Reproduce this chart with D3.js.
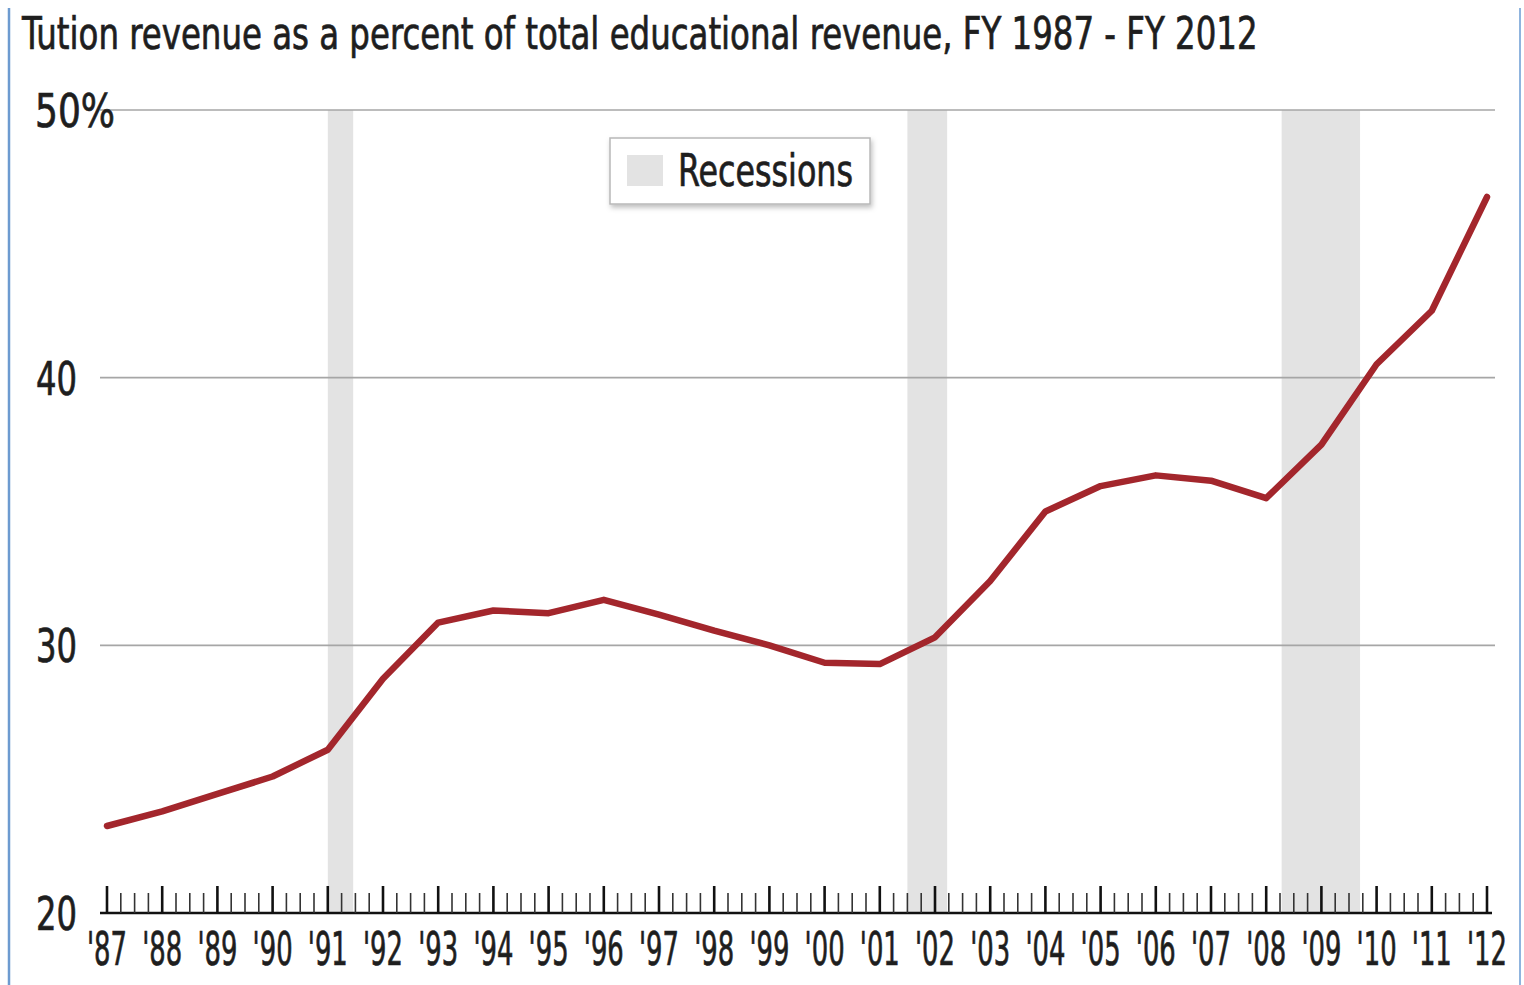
<!DOCTYPE html>
<html>
<head>
<meta charset="utf-8">
<script src="https://cdn.jsdelivr.net/npm/d3@7"></script>
<style>
  html, body { margin: 0; padding: 0; background: #fff; }
  svg { display: block; }
  text { font-family: "Liberation Sans Narrow", "DejaVu Sans Condensed", "Roboto Condensed", sans-serif;
         fill: #1e1e1e; stroke: #1e1e1e; stroke-width: 0.7px; }
</style>
</head>
<body>
<script>
// Fiscal years and tuition share of total educational revenue (%)
const years = [1987, 1988, 1989, 1990, 1991, 1992, 1993, 1994, 1995, 1996, 1997, 1998, 1999,
               2000, 2001, 2002, 2003, 2004, 2005, 2006, 2007, 2008, 2009, 2010, 2011, 2012];
const tuitionShare = [23.25, 23.8, 24.45, 25.1, 26.1, 28.75, 30.85, 31.3, 31.2, 31.7, 31.15, 30.55, 30.0,
                      29.35, 29.3, 30.3, 32.4, 35.0, 35.95, 36.35, 36.15, 35.5, 37.5, 40.5, 42.5, 46.75];

// Recession periods (fractional fiscal years)
const recessionStart = [1991.0, 2001.5, 2008.28];
const recessionEnd   = [1991.46, 2002.22, 2009.7];

// Axis ticks and labels
const yTicks = [20, 30, 40, 50];
const yTickLabels = ["20", "30", "40", "50%"];
const xTickLabels = years.map(y => "'" + String(y).slice(2));

const titleText = "Tution revenue as a percent of total educational revenue, FY 1987 - FY 2012";
const legendLabel = "Recessions";

const W = 1524, H = 985;
const svg = d3.select("body").append("svg").attr("width", W).attr("height", H);

const x = d3.scaleLinear().domain([1987, 2012]).range([107, 1487]);
const y = d3.scaleLinear().domain([20, 50]).range([913, 110]);

// squeeze a text horizontally so its rendered width equals `target`
function fitWidth(sel, target, tx, ty) {
  const w = sel.node().getComputedTextLength();
  const k = target / w;
  sel.attr("transform", `translate(${tx}, ${ty}) scale(${k}, 1)`);
  return k;
}

// frame edges
svg.append("line").attr("x1", 9).attr("x2", 9).attr("y1", 8).attr("y2", H)
  .attr("stroke", "#6d9bd0").attr("stroke-width", 2.5);
svg.append("line").attr("x1", 1520).attr("x2", 1520).attr("y1", 8).attr("y2", H)
  .attr("stroke", "#8fb4de").attr("stroke-width", 2);

// title
const title = svg.append("text").attr("font-size", 44).text(titleText);
fitWidth(title, 1236, 22, 49);

// recession bands
svg.append("g").selectAll("rect")
  .data(recessionStart.map((s, i) => [s, recessionEnd[i]]))
  .join("rect")
  .attr("x", d => x(d[0]))
  .attr("width", d => x(d[1]) - x(d[0]))
  .attr("y", y(50))
  .attr("height", y(20) - y(50))
  .attr("fill", "#e3e3e3");

// horizontal gridlines
svg.append("g").selectAll("line")
  .data(yTicks.filter(t => t > 20))
  .join("line")
  .attr("x1", 100).attr("x2", 1495)
  .attr("y1", d => y(d)).attr("y2", d => y(d))
  .attr("stroke", "#a6a6a6").attr("stroke-width", 1.6);

// y labels (condensed: two digits span about 41px, "50%" about 80px)
const yLab = svg.append("g").selectAll("text")
  .data(yTicks)
  .join("text")
  .attr("font-size", 46)
  .text((d, i) => yTickLabels[i]);
const kY = 41 / yLab.filter(d => d === 40).node().getComputedTextLength();
yLab.attr("transform", d => `translate(36, ${y(d) + 17}) scale(${kY}, 1)`);
fitWidth(yLab.filter(d => d === 50), 80, 35, y(50) + 17);

// x axis: baseline, yearly major ticks and quarterly minor ticks
const xAxisG = svg.append("g").attr("transform", `translate(0, ${y(20)})`);
const quarters = d3.range(1987, 2012.01, 0.25).filter(q => Math.abs(q - Math.round(q)) > 0.01);
xAxisG.append("line").attr("x1", 100).attr("x2", 1492).attr("y1", 0).attr("y2", 0)
  .attr("stroke", "#111").attr("stroke-width", 2.5);
xAxisG.selectAll(".major").data(years).join("line").attr("class", "major")
  .attr("x1", d => x(d)).attr("x2", d => x(d))
  .attr("y1", 0).attr("y2", -27)
  .attr("stroke", "#111").attr("stroke-width", 2.6);
xAxisG.selectAll(".minor").data(quarters).join("line").attr("class", "minor")
  .attr("x1", d => x(d)).attr("x2", d => x(d))
  .attr("y1", 0).attr("y2", -20)
  .attr("stroke", "#333").attr("stroke-width", 1.6);

// x labels (condensed so "'87" spans about 40px)
const xLab = svg.append("g").selectAll("text")
  .data(years)
  .join("text")
  .attr("text-anchor", "middle")
  .attr("font-size", 46)
  .text((d, i) => xTickLabels[i]);
const kX = 40 / xLab.filter(d => d === 1987).node().getComputedTextLength();
xLab.attr("transform", d => `translate(${x(d)}, 965) scale(${kX}, 1)`);

// tuition share line
const line = d3.line()
  .x((d, i) => x(years[i]))
  .y(d => y(d))
  .curve(d3.curveLinear);
svg.append("path")
  .datum(tuitionShare)
  .attr("d", line)
  .attr("fill", "none")
  .attr("stroke", "#a3262c")
  .attr("stroke-width", 6.5)
  .attr("stroke-linejoin", "round")
  .attr("stroke-linecap", "round");

// legend
const defs = svg.append("defs");
const f = defs.append("filter").attr("id", "shadow").attr("x", "-10%").attr("y", "-10%")
  .attr("width", "130%").attr("height", "140%");
f.append("feDropShadow").attr("dx", 1.5).attr("dy", 3).attr("stdDeviation", 2.5)
  .attr("flood-color", "#000").attr("flood-opacity", 0.25);
const lg = svg.append("g");
lg.append("rect").attr("x", 610).attr("y", 138).attr("width", 260).attr("height", 66)
  .attr("fill", "#fff").attr("stroke", "#b8b8b8").attr("stroke-width", 1.5)
  .attr("filter", "url(#shadow)");
lg.append("rect").attr("x", 627).attr("y", 155).attr("width", 36).attr("height", 31)
  .attr("fill", "#e3e3e3");
const lgText = lg.append("text").attr("font-size", 44).text(legendLabel);
fitWidth(lgText, 175, 678, 186);
</script>
</body>
</html>
